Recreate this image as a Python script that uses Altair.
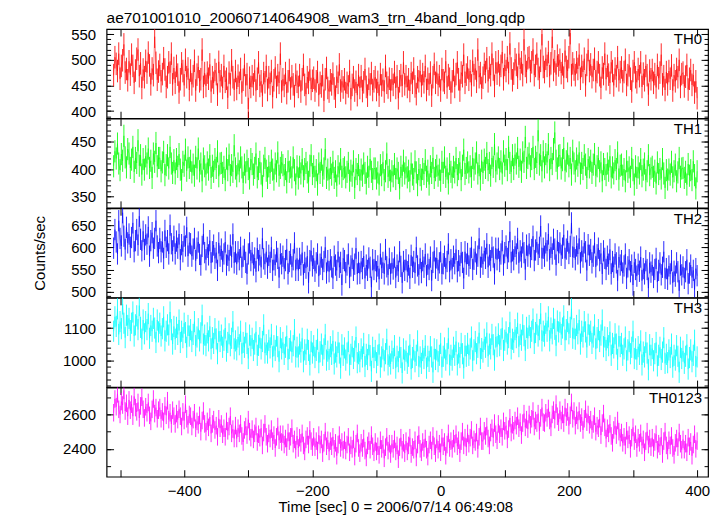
import math
import altair as alt
import pandas as pd

TITLE = "ae701001010_20060714064908_wam3_trn_4band_long.qdp"
X_TITLE = "Time [sec] 0 = 2006/07/14 06:49:08"
Y_TITLE = "Counts/sec"

T_START = -510
T_BIN = 2

NAMES = ["TH0", "TH1", "TH2", "TH3", "TH0123"]
COLORS = ["#ff0000", "#00ff00", "#0000ff", "#00ffff", "#ff00ff"]

TH0 = [
    470, 505, 492, 478, 512, 463, 488, 499, 530, 475, 482, 460,
    497, 471, 510, 488, 455, 479, 502, 520, 468, 493, 445, 481,
    466, 498, 475, 514, 489, 452, 483, 470, 545, 494, 461, 477,
    490, 458, 472, 503, 481, 447, 466, 495, 475, 512, 452, 484,
    455, 488, 471, 436, 462, 493, 478, 450, 500, 466, 483, 441,
    479, 452, 468, 498, 440, 471, 486, 458, 462, 520, 447, 474,
    449, 475, 463, 491, 438, 466, 455, 480, 472, 432, 496, 458,
    470, 445, 488, 457, 463, 426, 475, 452, 499, 466, 441, 478,
    443, 469, 455, 482, 436, 461, 490, 450, 472, 404, 465, 447,
    468, 452, 479, 440, 463, 495, 449, 458, 430, 474, 456, 488,
    441, 466, 453, 478, 427, 460, 485, 447, 470, 455, 512, 438,
    462, 449, 474, 435, 458, 480, 444, 468, 452, 429, 471, 457,
    447, 470, 438, 462, 490, 451, 433, 466, 455, 481, 443, 459,
    465, 440, 458, 476, 431, 455, 448, 470, 420, 462, 484, 445,
    438, 460, 452, 473, 444, 428, 467, 455, 491, 440, 458, 446,
    462, 435, 455, 448, 478, 423, 451, 466, 440, 457, 431, 470,
    445, 468, 439, 456, 482, 447, 430, 463, 452, 474, 441, 458,
    466, 441, 457, 430, 472, 450, 461, 438, 488, 455, 446, 463,
    440, 462, 451, 476, 445, 468, 425, 458, 470, 449, 495, 452,
    468, 447, 462, 439, 474, 455, 483, 448, 433, 466, 458, 478,
    449, 472, 456, 488, 441, 463, 452, 475, 430, 466, 492, 455,
    475, 451, 468, 440, 482, 460, 455, 497, 446, 470, 463, 436,
    458, 480, 447, 472, 495, 462, 440, 475, 468, 510, 455, 471,
    485, 461, 478, 450, 498, 470, 483, 457, 520, 466, 474, 445,
    465, 492, 476, 503, 458, 485, 470, 512, 481, 449, 495, 473,
    497, 470, 488, 515, 462, 490, 478, 505, 474, 532, 483, 460,
    473, 501, 490, 465, 512, 482, 495, 470, 540, 488, 476, 503,
    505, 478, 495, 520, 470, 488, 512, 482, 465, 498, 550, 486,
    476, 502, 488, 515, 468, 493, 545, 480, 497, 471, 508, 489,
    500, 474, 491, 465, 518, 486, 478, 505, 552, 470, 493, 481,
    470, 495, 482, 510, 463, 488, 476, 502, 450, 490, 519, 478,
    491, 466, 480, 502, 458, 476, 495, 470, 445, 485, 472, 512,
    462, 488, 471, 455, 495, 478, 450, 483, 468, 505, 460, 476,
    485, 458, 476, 500, 451, 470, 489, 463, 438, 478, 495, 466,
    456, 482, 468, 495, 447, 473, 460, 488, 470, 432, 479, 462,
    480, 455, 472, 446, 490, 464, 475, 510, 452, 468, 441, 476,
    452, 478, 463, 489, 440, 470, 458, 482, 466, 500, 447, 472,
    475, 448, 467, 490, 442, 463, 480, 451, 470, 436, 458, 425,
]
TH1 = [
    405, 432, 419, 446, 410, 398, 427, 415, 460, 421, 403, 436,
    428, 402, 417, 440, 395, 420, 411, 452, 406, 425, 390, 418,
    399, 423, 410, 437, 402, 415, 384, 428, 413, 447, 405, 420,
    420, 396, 412, 431, 389, 407, 425, 401, 440, 410, 393, 416,
    392, 418, 404, 427, 399, 380, 413, 406, 435, 397, 421, 402,
    415, 394, 408, 388, 422, 401, 437, 396, 410, 378, 419, 405,
    390, 412, 399, 425, 384, 406, 395, 418, 402, 432, 387, 410,
    411, 393, 404, 380, 419, 398, 426, 389, 407, 395, 443, 401,
    387, 410, 396, 421, 403, 375, 408, 394, 415, 400, 383, 418,
    409, 390, 402, 428, 385, 400, 413, 392, 369, 406, 420, 397,
    384, 405, 393, 415, 399, 381, 410, 396, 430, 388, 402, 412,
    407, 389, 400, 376, 414, 395, 403, 385, 421, 398, 372, 405,
    383, 404, 392, 418, 387, 400, 411, 394, 377, 406, 425, 391,
    405, 386, 398, 372, 410, 393, 417, 388, 401, 436, 384, 399,
    381, 402, 390, 413, 384, 396, 370, 405, 392, 418, 386, 400,
    403, 385, 395, 411, 379, 397, 388, 414, 366, 400, 391, 407,
    380, 399, 388, 410, 393, 374, 404, 386, 418, 395, 382, 401,
    401, 383, 394, 372, 407, 389, 412, 380, 396, 428, 386, 398,
    379, 396, 387, 409, 382, 401, 393, 365, 404, 388, 415, 392,
    403, 385, 397, 378, 410, 390, 382, 414, 394, 371, 400, 389,
    381, 400, 391, 416, 386, 397, 372, 405, 393, 420, 384, 398,
    406, 388, 399, 379, 413, 393, 421, 386, 401, 374, 409, 395,
    385, 404, 394, 420, 389, 400, 412, 380, 406, 435, 391, 402,
    412, 394, 405, 386, 420, 399, 410, 430, 392, 407, 381, 415,
    393, 417, 402, 429, 398, 411, 388, 420, 404, 445, 396, 410,
    421, 400, 414, 392, 432, 406, 418, 398, 440, 411, 395, 425,
    400, 426, 410, 438, 404, 417, 395, 430, 413, 458, 402, 420,
    428, 405, 418, 440, 400, 422, 411, 470, 408, 425, 396, 432,
    403, 427, 412, 445, 398, 420, 409, 436, 466, 415, 401, 424,
    425, 401, 416, 438, 397, 414, 428, 405, 420, 390, 433, 410,
    396, 419, 406, 430, 392, 411, 400, 425, 408, 384, 418, 403,
    415, 393, 408, 427, 388, 405, 420, 396, 412, 378, 409, 400,
    389, 410, 397, 423, 385, 403, 392, 416, 400, 430, 381, 406,
    408, 388, 400, 378, 414, 395, 403, 386, 420, 398, 372, 405,
    384, 403, 392, 418, 387, 399, 410, 380, 396, 425, 389, 401,
    404, 386, 397, 374, 412, 391, 400, 383, 418, 392, 366, 398,
    381, 399, 390, 413, 385, 396, 408, 378, 394, 420, 386, 401,
    402, 384, 395, 372, 409, 388, 398, 380, 414, 389, 365, 396,
]
TH2 = [
    598, 640, 612, 585, 660, 620, 603, 678, 625, 595, 645, 610,
    630, 600, 622, 655, 590, 615, 640, 605, 670, 618, 592, 636,
    595, 628, 607, 646, 580, 615, 633, 598, 620, 660, 603, 588,
    620, 590, 612, 575, 638, 600, 615, 585, 650, 608, 592, 625,
    585, 614, 598, 630, 572, 606, 590, 625, 603, 645, 580, 610,
    608, 580, 596, 620, 570, 598, 612, 584, 560, 602, 630, 588,
    572, 600, 583, 615, 565, 590, 605, 575, 588, 548, 610, 580,
    596, 568, 585, 612, 560, 582, 570, 605, 578, 630, 565, 590,
    562, 590, 572, 600, 555, 580, 595, 566, 540, 585, 610, 570,
    588, 560, 576, 545, 598, 570, 583, 555, 620, 574, 562, 590,
    553, 582, 566, 600, 548, 572, 560, 590, 575, 532, 585, 563,
    580, 552, 570, 595, 540, 568, 585, 556, 572, 610, 548, 575,
    548, 575, 560, 588, 538, 566, 553, 580, 520, 570, 592, 558,
    575, 546, 565, 585, 535, 562, 578, 550, 568, 600, 542, 570,
    545, 572, 556, 530, 580, 560, 548, 590, 555, 566, 515, 575,
    570, 543, 560, 585, 532, 558, 575, 548, 562, 598, 540, 566,
    541, 568, 552, 580, 530, 560, 548, 576, 555, 510, 572, 550,
    570, 545, 558, 528, 585, 553, 566, 540, 595, 556, 538, 575,
    540, 565, 551, 578, 532, 560, 546, 590, 557, 520, 568, 548,
    572, 545, 560, 530, 582, 555, 568, 542, 600, 558, 538, 575,
    543, 570, 555, 585, 536, 562, 550, 578, 525, 566, 592, 553,
    576, 548, 565, 590, 540, 563, 580, 552, 568, 608, 545, 572,
    552, 580, 563, 595, 545, 570, 558, 588, 566, 530, 590, 562,
    586, 558, 575, 600, 550, 573, 590, 562, 580, 620, 555, 578,
    562, 592, 575, 608, 555, 583, 570, 600, 578, 540, 598, 572,
    598, 568, 585, 615, 560, 588, 603, 575, 590, 635, 566, 592,
    572, 602, 585, 620, 565, 592, 578, 610, 588, 550, 605, 580,
    608, 578, 595, 625, 570, 594, 612, 584, 600, 648, 575, 598,
    580, 610, 592, 630, 572, 600, 585, 618, 596, 560, 615, 588,
    610, 582, 598, 628, 575, 596, 614, 586, 602, 655, 578, 600,
    572, 603, 585, 620, 565, 592, 578, 610, 590, 548, 606, 582,
    595, 565, 580, 610, 556, 583, 598, 570, 586, 540, 592, 575,
    550, 580, 562, 595, 540, 568, 555, 585, 565, 525, 578, 560,
    570, 542, 558, 585, 530, 556, 572, 545, 560, 515, 566, 550,
    535, 562, 546, 578, 525, 552, 540, 570, 550, 508, 565, 544,
    560, 532, 550, 575, 522, 548, 565, 538, 555, 590, 530, 552,
    528, 558, 540, 570, 520, 546, 535, 565, 545, 502, 560, 538,
    556, 530, 545, 572, 518, 542, 560, 532, 548, 505, 552, 536,
]
TH3 = [
    1090, 1135, 1105, 1160, 1080, 1120, 1098, 1175, 1115, 1070, 1140, 1108,
    1130, 1092, 1115, 1150, 1075, 1110, 1138, 1095, 1170, 1102, 1065, 1125,
    1082, 1120, 1095, 1145, 1068, 1108, 1090, 1130, 1100, 1055, 1125, 1088,
    1115, 1075, 1098, 1135, 1060, 1090, 1110, 1078, 1150, 1095, 1050, 1105,
    1065, 1102, 1080, 1125, 1055, 1090, 1070, 1115, 1086, 1040, 1108, 1075,
    1095, 1058, 1080, 1120, 1045, 1072, 1098, 1060, 1085, 1140, 1050, 1078,
    1045, 1085, 1060, 1105, 1035, 1070, 1052, 1098, 1066, 1020, 1090, 1058,
    1078, 1040, 1062, 1100, 1028, 1055, 1082, 1045, 1068, 1120, 1035, 1060,
    1032, 1072, 1048, 1090, 1020, 1055, 1040, 1085, 1052, 1005, 1078, 1045,
    1068, 1030, 1050, 1088, 1015, 1046, 1070, 1035, 1058, 1110, 1022, 1048,
    1022, 1062, 1038, 1080, 1010, 1045, 1030, 1075, 1042, 995, 1070, 1035,
    1055, 1018, 1040, 1075, 1002, 1036, 1060, 1025, 1045, 1095, 1010, 1040,
    1010, 1050, 1025, 1068, 995, 1032, 1018, 1065, 1030, 985, 1058, 1022,
    1045, 1008, 1030, 1065, 992, 1026, 1050, 1015, 1035, 1080, 1000, 1028,
    1002, 1042, 1018, 1060, 988, 1025, 1010, 1055, 1022, 975, 1048, 1015,
    1038, 1000, 1022, 1058, 985, 1018, 1042, 1005, 1028, 1072, 992, 1020,
    995, 1035, 1010, 1052, 980, 1018, 1002, 1048, 1014, 965, 1040, 1008,
    1030, 992, 1015, 1050, 978, 1010, 1035, 998, 1020, 1065, 985, 1012,
    988, 1028, 1005, 1045, 975, 1012, 995, 1040, 1008, 960, 1035, 1000,
    1028, 990, 1012, 1048, 972, 1008, 1032, 995, 1015, 1060, 980, 1010,
    990, 1030, 1005, 1045, 975, 1012, 996, 1042, 1010, 962, 1035, 1002,
    1032, 995, 1015, 1052, 978, 1012, 1038, 1000, 1020, 1068, 985, 1015,
    1000, 1040, 1015, 1058, 985, 1022, 1008, 1052, 1020, 975, 1045, 1012,
    1052, 1015, 1035, 1072, 998, 1032, 1058, 1020, 1040, 1085, 1005, 1036,
    1025, 1065, 1040, 1085, 1012, 1050, 1035, 1080, 1048, 1000, 1072, 1042,
    1082, 1045, 1065, 1100, 1030, 1062, 1088, 1050, 1070, 1118, 1035, 1065,
    1055, 1095, 1070, 1115, 1042, 1080, 1062, 1110, 1076, 1030, 1102, 1068,
    1108, 1070, 1090, 1128, 1052, 1086, 1112, 1075, 1095, 1145, 1060, 1090,
    1075, 1115, 1090, 1135, 1060, 1100, 1082, 1130, 1096, 1045, 1122, 1088,
    1118, 1080, 1100, 1138, 1062, 1095, 1120, 1082, 1102, 1160, 1068, 1098,
    1065, 1108, 1082, 1125, 1050, 1090, 1072, 1120, 1088, 1040, 1112, 1078,
    1090, 1052, 1072, 1110, 1035, 1070, 1095, 1058, 1078, 1125, 1042, 1072,
    1030, 1070, 1045, 1088, 1015, 1052, 1038, 1082, 1050, 1002, 1075, 1042,
    1052, 1015, 1035, 1072, 998, 1032, 1058, 1020, 1040, 1090, 1005, 1035,
    1002, 1042, 1018, 1060, 985, 1025, 1010, 1055, 1022, 970, 1048, 1015,
    1036, 998, 1020, 1055, 982, 1015, 1040, 1002, 1025, 1070, 990, 1018,
    992, 1032, 1008, 1050, 978, 1015, 1000, 1045, 1012, 962, 1040, 1005,
    1028, 990, 1012, 1048, 972, 1008, 1032, 995, 1015, 1062, 980, 1010,
]
TH0123 = [
    2610, 2690, 2645, 2720, 2630, 2600, 2675, 2655, 2740, 2620, 2665, 2590,
    2685, 2625, 2660, 2590, 2705, 2640, 2615, 2670, 2580, 2650, 2700, 2630,
    2580, 2645, 2610, 2670, 2595, 2560, 2630, 2690, 2605, 2640, 2575, 2625,
    2640, 2575, 2615, 2560, 2650, 2595, 2680, 2570, 2610, 2545, 2625, 2590,
    2545, 2605, 2570, 2630, 2590, 2530, 2615, 2565, 2660, 2575, 2540, 2600,
    2590, 2530, 2570, 2610, 2520, 2560, 2540, 2595, 2500, 2565, 2620, 2545,
    2500, 2560, 2525, 2585, 2490, 2545, 2570, 2510, 2535, 2470, 2575, 2520,
    2545, 2485, 2520, 2470, 2560, 2505, 2530, 2590, 2490, 2515, 2460, 2535,
    2460, 2520, 2490, 2545, 2475, 2440, 2510, 2530, 2480, 2570, 2500, 2465,
    2515, 2455, 2490, 2530, 2440, 2485, 2465, 2520, 2420, 2495, 2545, 2470,
    2430, 2490, 2460, 2515, 2445, 2480, 2405, 2470, 2530, 2450, 2485, 2440,
    2485, 2425, 2460, 2410, 2495, 2445, 2470, 2520, 2430, 2455, 2395, 2475,
    2405, 2465, 2435, 2490, 2420, 2385, 2455, 2475, 2425, 2510, 2445, 2410,
    2470, 2410, 2445, 2390, 2480, 2425, 2455, 2375, 2435, 2500, 2415, 2450,
    2385, 2445, 2415, 2470, 2400, 2435, 2360, 2425, 2480, 2405, 2440, 2395,
    2450, 2390, 2425, 2470, 2380, 2420, 2400, 2455, 2355, 2430, 2490, 2405,
    2375, 2435, 2405, 2460, 2390, 2350, 2420, 2445, 2395, 2480, 2415, 2380,
    2440, 2385, 2415, 2365, 2450, 2400, 2425, 2345, 2410, 2470, 2390, 2430,
    2370, 2430, 2400, 2455, 2385, 2420, 2340, 2410, 2465, 2395, 2435, 2375,
    2445, 2385, 2420, 2465, 2370, 2410, 2395, 2450, 2350, 2425, 2480, 2400,
    2380, 2440, 2405, 2460, 2395, 2355, 2425, 2450, 2390, 2475, 2415, 2375,
    2455, 2395, 2430, 2380, 2465, 2415, 2440, 2360, 2425, 2490, 2405, 2445,
    2400, 2460, 2430, 2485, 2415, 2450, 2375, 2445, 2500, 2420, 2465, 2410,
    2490, 2430, 2465, 2510, 2420, 2455, 2440, 2495, 2400, 2470, 2530, 2445,
    2445, 2505, 2475, 2530, 2460, 2420, 2495, 2520, 2465, 2550, 2485, 2450,
    2545, 2485, 2520, 2470, 2560, 2505, 2535, 2455, 2515, 2580, 2495, 2540,
    2505, 2565, 2535, 2590, 2520, 2555, 2480, 2550, 2605, 2525, 2570, 2515,
    2600, 2540, 2575, 2620, 2530, 2565, 2550, 2605, 2505, 2580, 2640, 2555,
    2550, 2610, 2580, 2635, 2565, 2525, 2600, 2625, 2570, 2660, 2590, 2555,
    2625, 2565, 2600, 2550, 2640, 2585, 2615, 2535, 2595, 2670, 2575, 2620,
    2535, 2595, 2565, 2620, 2550, 2585, 2510, 2575, 2630, 2555, 2600, 2540,
    2570, 2510, 2545, 2590, 2500, 2535, 2520, 2575, 2480, 2550, 2605, 2525,
    2460, 2520, 2490, 2545, 2475, 2435, 2510, 2535, 2480, 2565, 2500, 2465,
    2495, 2435, 2470, 2420, 2505, 2455, 2480, 2400, 2465, 2525, 2445, 2485,
    2405, 2465, 2435, 2490, 2420, 2455, 2380, 2445, 2500, 2425, 2460, 2410,
    2465, 2405, 2440, 2485, 2395, 2430, 2415, 2470, 2370, 2445, 2500, 2420,
    2390, 2450, 2420, 2475, 2405, 2365, 2435, 2460, 2410, 2495, 2430, 2395,
    2455, 2395, 2430, 2380, 2465, 2415, 2440, 2360, 2425, 2485, 2400, 2445,
]
SERIES = [TH0, TH1, TH2, TH3, TH0123]
ERRS = [22, 20, 24, 33, 51]

Y_DOMAINS = [[386, 560], [330, 491], [487, 688], [916, 1194], [2238, 2757]]
Y_MAJOR = [[400, 450, 500, 550], [350, 400, 450], [500, 550, 600, 650],
           [1000, 1100], [2400, 2600]]
Y_MINOR_STEP = [10, 10, 10, 20, 100]

X_DOMAIN = [-521, 417]
X_TICKS = [-500, -400, -300, -200, -100, 0, 100, 200, 300, 400]
X_LABELS = [-400, -200, 0, 200, 400]

FONT = "Liberation Sans"
W = 604
H = 89.6


def minor_values(dom, step):
    lo = math.ceil(dom[0] / step) * step
    return list(range(lo, int(dom[1]) + 1, step))


def tick_layer(df, xs, ys, ch, orient, values, size):
    ax = alt.Axis(orient=orient, values=values, ticks=True, tickSize=size,
                  offset=-size, labels=False, domain=False, grid=False,
                  title=None, tickColor="black", tickWidth=1)
    if ch == "x":
        enc = dict(x=alt.X("t:Q", scale=xs, axis=ax),
                   y=alt.Y("v:Q", scale=ys, axis=None))
    else:
        enc = dict(x=alt.X("t:Q", scale=xs, axis=None),
                   y=alt.Y("v:Q", scale=ys, axis=ax))
    return alt.Chart(df).mark_line(opacity=0).encode(**enc)


def panel(i):
    vals = SERIES[i]
    e = ERRS[i]
    df = pd.DataFrame({
        "t": [T_START + T_BIN * k for k in range(len(vals))],
        "v": vals,
    })
    df["lo"] = df["v"] - e
    df["hi"] = df["v"] + e
    xs = alt.Scale(domain=X_DOMAIN, nice=False, zero=False)
    ys = alt.Scale(domain=Y_DOMAINS[i], nice=False, zero=False)
    last = i == len(NAMES) - 1

    if last:
        xaxis = alt.Axis(orient="bottom", values=X_LABELS, ticks=False, tickSize=0,
                         domain=False, grid=False, labelPadding=7, labelFlush=False,
                         labelOverlap=False, format="d", title=X_TITLE, titleX=290,
                         titleY=35, titleAlign="center", titleBaseline="alphabetic")
    else:
        xaxis = None

    ykw = dict(orient="left", values=Y_MAJOR[i], ticks=False, tickSize=0,
               domain=False, grid=False, labelPadding=11, labelFlush=False,
               labelOverlap=False, labelBaseline="middle", format="d")
    if i == 2:
        yaxis = alt.Axis(title=Y_TITLE, titleX=-67, titleY=H / 2, titleAngle=270,
                         titleAlign="center", titleBaseline="middle", **ykw)
    else:
        yaxis = alt.Axis(title=None, **ykw)

    err = alt.Chart(df).mark_rule(color=COLORS[i], opacity=0.85, strokeWidth=1,
                                  clip=True).encode(
        x=alt.X("t:Q", scale=xs, axis=xaxis),
        y=alt.Y("lo:Q", scale=ys, axis=yaxis),
        y2="hi:Q",
    )
    line = alt.Chart(df).mark_line(color=COLORS[i], strokeWidth=0.6, opacity=0.8,
                                   clip=True).encode(
        x=alt.X("t:Q", scale=xs, axis=None),
        y=alt.Y("v:Q", scale=ys, axis=None),
    )
    minor = minor_values(Y_DOMAINS[i], Y_MINOR_STEP[i])
    ticks = [
        tick_layer(df, xs, ys, "y", "left", Y_MAJOR[i], 7),
        tick_layer(df, xs, ys, "y", "left", minor, 4),
        tick_layer(df, xs, ys, "y", "right", Y_MAJOR[i], 7),
        tick_layer(df, xs, ys, "y", "right", minor, 4),
        tick_layer(df, xs, ys, "x", "bottom", X_TICKS, 7),
        tick_layer(df, xs, ys, "x", "top", X_TICKS, 7),
    ]
    label = alt.Chart(pd.DataFrame({"name": [NAMES[i]]})).mark_text(
        align="right", baseline="alphabetic", font=FONT, fontSize=15, color="black"
    ).encode(x=alt.value(W - 6), y=alt.value(15.5), text="name:N")

    return alt.layer(err, line, *ticks, label).resolve_axis(
        x="independent", y="independent"
    ).properties(width=W, height=H)


chart = alt.vconcat(
    *[panel(i) for i in range(len(NAMES))],
    spacing=0,
    bounds="flush",
    title=alt.TitleParams(TITLE, anchor="start", frame="group", offset=0,
                          fontSize=15.5, font=FONT, fontWeight="normal",
                          color="black"),
).properties(
    padding={"left": 24, "top": 2, "right": 5, "bottom": 5},
).configure_view(
    stroke="black", strokeWidth=1.2
).configure_axis(
    labelFont=FONT, labelFontSize=15, labelColor="black",
    titleFont=FONT, titleFontSize=15, titleColor="black", titleFontWeight="normal",
)

chart.save("out.html", embed_options={"renderer": "svg", "actions": False})
